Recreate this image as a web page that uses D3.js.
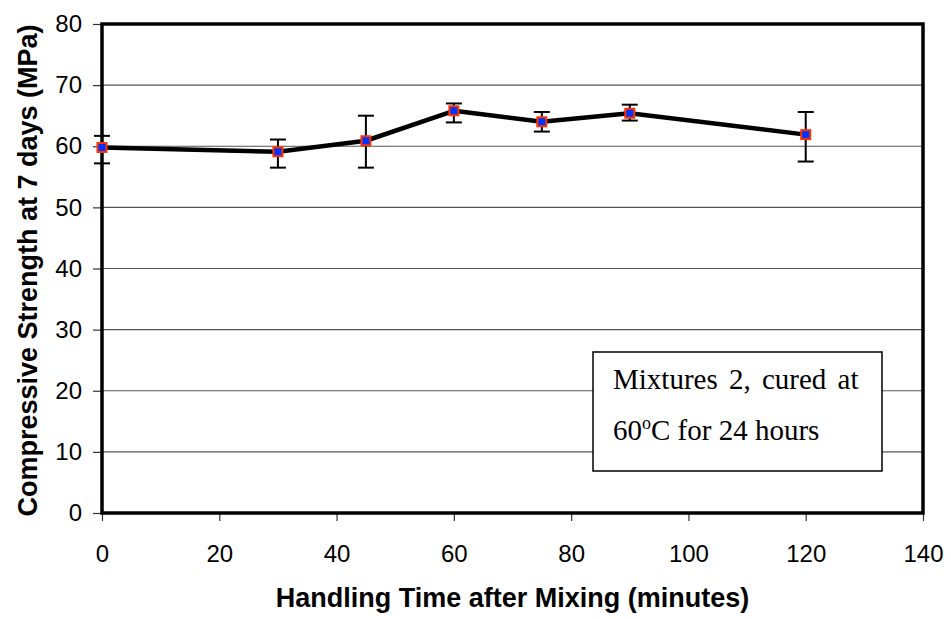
<!DOCTYPE html>
<html>
<head>
<meta charset="utf-8">
<script src="https://cdn.jsdelivr.net/npm/d3@7"></script>
<style>
  html, body { margin: 0; padding: 0; background: #fff; }
  svg { display: block; }
  .tick text { font-family: "Liberation Sans", Arial, sans-serif; font-size: 24px; fill: #000; }
</style>
</head>
<body>
<svg id="chart" width="951" height="619"></svg>
<script>
// ---- Data ----
const times = [0, 30, 45, 60, 75, 90, 120];
const strength = [59.8, 59.1, 60.9, 65.8, 64.0, 65.4, 61.9];
const errTop = [61.7, 61.1, 65.0, 67.0, 65.6, 66.8, 65.6];
const errBottom = [57.2, 56.5, 56.5, 63.9, 62.4, 64.2, 57.5];
const xTicks = [0, 20, 40, 60, 80, 100, 120, 140];
const yTicks = [0, 10, 20, 30, 40, 50, 60, 70, 80];
const xTitle = "Handling Time after Mixing (minutes)";
const yTitle = "Compressive Strength at 7 days (MPa)";
const noteLine1 = "Mixtures 2, cured at";
const noteLine2a = "60";
const noteSup = "o";
const noteLine2b = "C for 24 hours";

// ---- Layout ----
const W = 951, H = 619;
const m = { left: 102, top: 24, right: 28, bottom: 106 };
const iw = W - m.left - m.right, ih = H - m.top - m.bottom;

const svg = d3.select("#chart");
const g = svg.append("g").attr("transform", `translate(${m.left},${m.top})`);

const x = d3.scaleLinear().domain([0, 140]).range([0, iw]);
const y = d3.scaleLinear().domain([0, 80]).range([ih, 0]);

// gridlines
g.append("g").selectAll("line")
  .data(yTicks.filter(v => v > 0 && v < 80))
  .join("line")
  .attr("x1", 0).attr("x2", iw)
  .attr("y1", d => y(d)).attr("y2", d => y(d))
  .attr("stroke", "#555").attr("stroke-width", 1.2);

// axes
const yAxis = g.append("g")
  .call(d3.axisLeft(y).tickValues(yTicks).tickSize(9).tickPadding(11).tickFormat(d3.format("d")));
yAxis.select(".domain").remove();
yAxis.selectAll(".tick line").attr("stroke", "#333").attr("stroke-width", 1.2);

const xAxis = g.append("g").attr("transform", `translate(0,${ih})`)
  .call(d3.axisBottom(x).tickValues(xTicks).tickSize(8).tickPadding(24).tickFormat(d3.format("d")));
xAxis.select(".domain").remove();
xAxis.selectAll(".tick line").attr("stroke", "#333").attr("stroke-width", 1.2);

// frame
g.append("rect")
  .attr("x", 0).attr("y", 0).attr("width", iw).attr("height", ih)
  .attr("fill", "none").attr("stroke", "#000").attr("stroke-width", 3.5);

const data = times.map((t, i) => ({ t, v: strength[i], hi: errTop[i], lo: errBottom[i] }));

// error bars
const eb = g.append("g").attr("stroke", "#000").attr("stroke-width", 2);
eb.selectAll("line.v").data(data).join("line").attr("class", "v")
  .attr("x1", d => x(d.t)).attr("x2", d => x(d.t))
  .attr("y1", d => y(d.hi)).attr("y2", d => y(d.lo));
eb.selectAll("line.h").data(data).join("line").attr("class", "h")
  .attr("x1", d => x(d.t) - 8).attr("x2", d => x(d.t) + 8)
  .attr("y1", d => y(d.hi)).attr("y2", d => y(d.hi));
eb.selectAll("line.l").data(data).join("line").attr("class", "l")
  .attr("x1", d => x(d.t) - 8).attr("x2", d => x(d.t) + 8)
  .attr("y1", d => y(d.lo)).attr("y2", d => y(d.lo));

// line
g.append("path").datum(data)
  .attr("fill", "none").attr("stroke", "#000").attr("stroke-width", 4.5)
  .attr("stroke-linejoin", "round")
  .attr("d", d3.line().x(d => x(d.t)).y(d => y(d.v)));

// markers
const ms = 9;
g.append("g").selectAll("rect").data(data).join("rect")
  .attr("x", d => x(d.t) - ms / 2).attr("y", d => y(d.v) - ms / 2)
  .attr("width", ms).attr("height", ms)
  .attr("fill", "#0033FF").attr("stroke", "#FF3300").attr("stroke-width", 2);

// note box
const note = svg.append("g");
note.append("rect")
  .attr("x", 593).attr("y", 352).attr("width", 289).attr("height", 119)
  .attr("fill", "#fff").attr("stroke", "#000").attr("stroke-width", 1.5);
const serif = '"Liberation Serif", "Times New Roman", serif';
note.append("text").attr("x", 613).attr("y", 389)
  .attr("font-family", serif).attr("font-size", 29).attr("word-spacing", 4)
  .text(noteLine1);
const t2 = note.append("text").attr("x", 613).attr("y", 440)
  .attr("font-family", serif).attr("font-size", 29);
t2.append("tspan").text(noteLine2a);
t2.append("tspan").attr("font-size", 18).attr("dy", -11).text(noteSup);
t2.append("tspan").attr("dy", 11).text(noteLine2b);

// axis titles
const sans = '"Liberation Sans", Arial, sans-serif';
svg.append("text")
  .attr("x", m.left + iw / 2).attr("y", 607)
  .attr("text-anchor", "middle")
  .attr("font-family", sans).attr("font-weight", "bold").attr("font-size", 27)
  .text(xTitle);
svg.append("text")
  .attr("transform", `translate(37,${m.top + ih / 2 + 2}) rotate(-90)`)
  .attr("text-anchor", "middle")
  .attr("font-family", sans).attr("font-weight", "bold").attr("font-size", 27)
  .text(yTitle);
</script>
</body>
</html>
